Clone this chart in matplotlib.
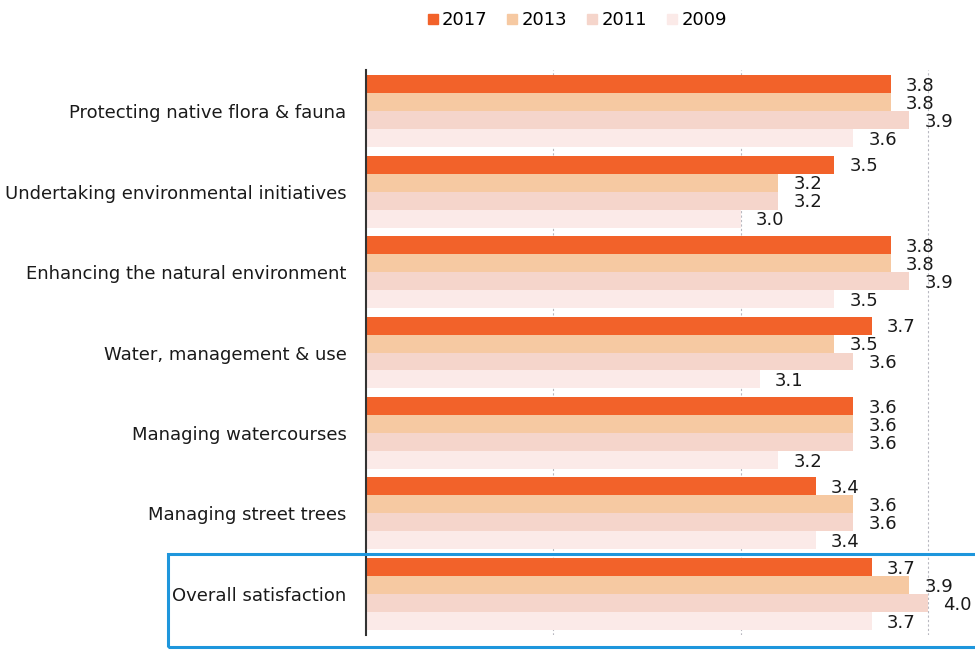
import matplotlib.pyplot as plt
from matplotlib.lines import Line2D
from matplotlib.patches import Rectangle

categories = [
    "Protecting native flora & fauna",
    "Undertaking environmental initiatives",
    "Enhancing the natural environment",
    "Water, management & use",
    "Managing watercourses",
    "Managing street trees",
    "Overall satisfaction",
]
years = ["2017", "2013", "2011", "2009"]
scores_2017 = [3.8, 3.5, 3.8, 3.7, 3.6, 3.4, 3.7]
scores_2013 = [3.8, 3.2, 3.8, 3.5, 3.6, 3.6, 3.9]
scores_2011 = [3.9, 3.2, 3.9, 3.6, 3.6, 3.6, 4.0]
scores_2009 = [3.6, 3.0, 3.5, 3.1, 3.2, 3.4, 3.7]

series = [scores_2017, scores_2013, scores_2011, scores_2009]
colors = ["#F2622A", "#F6C9A2", "#F5D5CB", "#FBEAE8"]

fig = plt.figure(figsize=(9.75, 6.5), dpi=100)
ax = fig.add_axes([366 / 975, 1 - 635 / 650, 1 - 366 / 975, (635 - 70) / 650])

bar_h = 18 / 80.5
for k, (vals, col) in enumerate(zip(series, colors)):
    offset = (k - 1.5) * bar_h
    ys = [i + offset for i in range(len(categories))]
    ax.barh(ys, [v - 1 for v in vals], left=1, height=bar_h, color=col,
            edgecolor="none", zorder=2)
    for y, v in zip(ys, vals):
        ax.text(v + 0.08, y + 0.02, f"{v:.1f}", va="center", ha="left",
                fontsize=13, color="#1a1a1a", zorder=4)

ax.set_xlim(1, 4.25)
ax.set_ylim(len(categories) - 0.49, -0.51)
ax.set_yticks(range(len(categories)))
ax.set_yticklabels(categories, fontsize=13, color="#1a1a1a")
ax.tick_params(axis="y", length=0, pad=14)
ax.set_xticks([])
for x in (2, 3, 4):
    ax.axvline(x, color="#b8b8c0", lw=0.8, ls=(0, (2, 2)), zorder=1)
for side in ("top", "right", "bottom"):
    ax.spines[side].set_visible(False)
ax.spines["left"].set_color("#333333")
ax.spines["left"].set_linewidth(1.5)
ax.spines["left"].set_zorder(5)

# highlight box around the overall row
fig.patches.append(Rectangle((168 / 975, 1 - 647 / 650), 0.9, (647 - 554) / 650,
                             transform=fig.transFigure, fill=False,
                             edgecolor="#1E96DC", lw=2.2, zorder=10))

handles = [Line2D([], [], marker="s", ls="none", markersize=7, color=c) for c in colors]
fig.legend(handles, years, loc="center", bbox_to_anchor=(576 / 975, 1 - 20 / 650),
           ncol=4, frameon=False, fontsize=13, handletextpad=0.1,
           columnspacing=1.0, handlelength=0.8)

fig.savefig("out.png", dpi=100)
